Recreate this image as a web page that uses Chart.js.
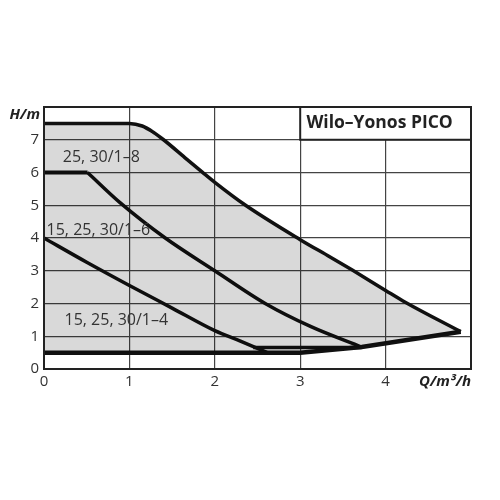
<!DOCTYPE html>
<html>
<head>
<meta charset="utf-8">
<script src="https://cdn.jsdelivr.net/npm/chart.js@4"></script>
<style>
  body { margin: 0; background: #fff; }
</style>
</head>
<body>
<canvas id="pumpChart" width="500" height="500"></canvas>
<script>
// curve data (Q in m³/h, H in m)
const qMax8 = [0, 1, 1.15, 1.28, 1.4, 1.67, 1.85, 2, 2.36, 3, 3.35, 3.61, 4, 4.23, 4.88];
const hMax8 = [7.5, 7.5, 7.42, 7.23, 7.0, 6.41, 6.02, 5.7, 5.0, 3.95, 3.42, 3.02, 2.4, 2.04, 1.14];
const qMin = [0, 3.0, 3.72, 4.88];
const hMin = [0.5, 0.5, 0.67, 1.14];
const qMax6 = [0, 0.51, 0.89, 1.42, 2, 2.59, 3.12, 3.72];
const hMax6 = [6, 6, 5.08, 4.0, 3.0, 2.0, 1.3, 0.67];
const qMin6 = [2.45, 3.72];
const hMin6 = [0.66, 0.66];
const qMax4 = [0, 0.5, 1, 1.5, 2, 2.3, 2.61];
const hMax4 = [4.0, 3.26, 2.55, 1.86, 1.17, 0.85, 0.51];
const yTicks = [0, 1, 2, 3, 4, 5, 6, 7];
const xTicks = [0, 1, 2, 3, 4];
const curveLabels = ['25, 30/1–8', '15, 25, 30/1–6', '15, 25, 30/1–4'];
const chartTitle = 'Wilo–Yonos PICO';

const pts = (xs, ys) => xs.map((x, i) => ({ x: x, y: ys[i] }));

function line(data, width, smooth) {
  return {
    data: data,
    showLine: true,
    borderColor: '#111',
    borderWidth: width,
    pointRadius: 0,
    cubicInterpolationMode: smooth ? 'monotone' : 'default',
    tension: 0,
    fill: false
  };
}

const decor = {
  id: 'decor',
  afterDraw(chart) {
    const c = chart.ctx;
    const xs = chart.scales.x, ys = chart.scales.y;
    const a = chart.chartArea;
    c.save();
    // frame
    c.strokeStyle = '#222';
    c.lineWidth = 2;
    c.strokeRect(a.left, a.top, a.right - a.left, a.bottom - a.top);
    // title box
    const bx = xs.getPixelForValue(3), by = ys.getPixelForValue(7);
    c.fillStyle = '#fff';
    c.fillRect(bx, a.top, a.right - bx, by - a.top);
    c.strokeRect(bx, a.top, a.right - bx, by - a.top);
    c.fillStyle = '#222';
    c.font = 'bold 17.5px "Open Sans"';
    c.textAlign = 'center';
    c.textBaseline = 'middle';
    c.fillText(chartTitle, (bx + a.right) / 2 - 6, (a.top + by) / 2);
    // curve labels
    c.font = '16px "Open Sans"';
    c.fillStyle = '#333';
    c.textAlign = 'left';
    c.fillText(curveLabels[0], xs.getPixelForValue(0.22), ys.getPixelForValue(6.45));
    c.fillText(curveLabels[1], xs.getPixelForValue(0.03), ys.getPixelForValue(4.23));
    c.fillText(curveLabels[2], xs.getPixelForValue(0.24), ys.getPixelForValue(1.48));
    // axis units
    c.font = 'bold italic 15px "Open Sans"';
    c.fillStyle = '#222';
    c.textAlign = 'right';
    c.fillText('H/m', a.left - 4, a.top + 8);
    c.fillText('Q/m³/h', a.right, a.bottom + 13);
    c.restore();
  }
};

const outer = line(pts(qMax8, hMax8), 3.5, true);
outer.fill = { target: 1 };
outer.backgroundColor = 'rgba(0,0,0,0.15)';

const curve6 = pts(qMax6, hMax6);

new Chart(document.getElementById('pumpChart'), {
  type: 'scatter',
  data: {
    datasets: [
      outer,
      line(pts(qMin, hMin), 4.5, false),
      line(curve6.slice(0, 2), 4, false),
      line(curve6.slice(1), 3.5, true),
      line(pts(qMin6, hMin6), 3.5, false),
      line(pts(qMax4, hMax4), 3.5, true)
    ]
  },
  options: {
    responsive: false,
    animation: false,
    layout: { padding: { top: 107, right: 29, bottom: 0, left: 0 } },
    plugins: {
      legend: { display: false },
      tooltip: { enabled: false },
      filler: { propagate: false }
    },
    scales: {
      x: {
        type: 'linear',
        min: 0,
        max: 5,
        afterFit(s) { s.height = 131; },
        afterBuildTicks(s) { s.ticks = xTicks.concat([5]).map(v => ({ value: v })); },
        ticks: {
          padding: 4,
          color: '#333',
          font: { family: 'Open Sans', size: 15 },
          callback: v => (xTicks.includes(v) ? String(v) : '')
        },
        grid: { color: '#444', lineWidth: 1.2, drawTicks: false },
        border: { color: '#222', width: 2 }
      },
      y: {
        min: 0,
        max: 8,
        afterFit(s) { s.width = 44; },
        afterBuildTicks(s) { s.ticks = yTicks.concat([8]).map(v => ({ value: v })); },
        ticks: {
          padding: 5,
          color: '#333',
          font: { family: 'Open Sans', size: 15 },
          callback: v => (yTicks.includes(v) ? String(v) : '')
        },
        grid: { color: '#444', lineWidth: 1.2, drawTicks: false },
        border: { color: '#222', width: 2 }
      }
    }
  },
  plugins: [decor]
});
</script>
</body>
</html>
